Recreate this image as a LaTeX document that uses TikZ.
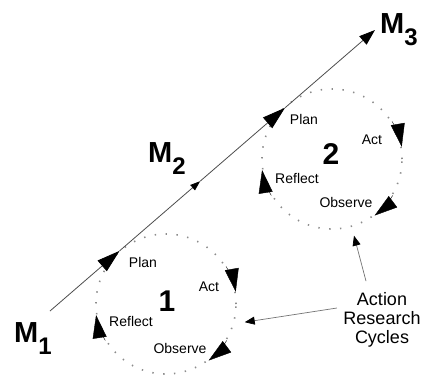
\documentclass[tikz,border=0pt]{standalone}
\usepackage{fontspec}
\setmainfont{Liberation Sans}
\usetikzlibrary{arrows.meta,calc}

\newcommand{\mlab}[1]{M\raisebox{-12pt}{\fontsize{24}{24}\selectfont #1}}

\begin{document}
\begin{tikzpicture}[x=1pt,y=1pt,font=\fontsize{14}{14}\selectfont,
  cycle/.style={circle, draw=black!45, line width=1.6pt, dash pattern=on 1.4pt off 9.5pt, minimum size=140pt, inner sep=0pt},
  num/.style={font=\fontsize{30}{30}\selectfont\bfseries},
  mlabel/.style={font=\fontsize{29}{29}\selectfont\bfseries, inner sep=0pt, anchor=base west},
  mainline/.style={draw=black!70, line width=0.8pt},
  big/.style={-{Triangle[length=23pt,width=14pt,color=black]}},
  small/.style={-{Triangle[length=10pt,width=7pt,color=black]}},
  tip/.style={-{Triangle[length=23pt,width=14pt]}, line width=0.4pt},
  pointer/.style={draw=black!55, line width=0.7pt, -{Triangle[length=10pt,width=8pt,color=black]}}
]

\useasboundingbox (0,0) rectangle (422,376);

% milestones
\node (m1) [mlabel] at (14,34) {\mlab{1}};
\node (m2) [mlabel] at (148,214) {\mlab{2}};
\node (m3) [mlabel] at (380,343) {\mlab{3}};

\coordinate (start) at (50,65);
\coordinate (end) at (375,346);
\coordinate (t1) at ($(start)!0.214!(end)$);
\coordinate (mid) at ($(start)!0.462!(end)$);
\coordinate (t2) at ($(start)!0.723!(end)$);

% cycles
\node (c1) [cycle] at (166,72) {};
\node (c2) [cycle] at (332,217) {};
\node (n1) [num] at (167,75) {1};
\node (n2) [num] at (331,222) {2};

\node (plan1) at (143,114) {Plan};
\node (act1) at (209,89) {Act};
\node (reflect1) at (131,55) {Reflect};
\node (observe1) at (180,28) {Observe};

\node (plan2) at (304,257) {Plan};
\node (act2) at (372,236) {Act};
\node (reflect2) at (297,198) {Reflect};
\node (observe2) at (346,174) {Observe};

\node (arc) [align=center, font=\fontsize{18}{19}\selectfont] at (382,56) {Action\\Research\\Cycles};

% main line
\draw[mainline, big] (start) -- (t1);
\draw[mainline, small] (t1) -- (mid);
\draw[mainline, big] (mid) -- (t2);
\draw[mainline, -{Triangle[length=16pt,width=11pt,color=black]}] (t2) -- (end);

% heads on the cycles
\foreach \c in {c1,c2} {
  \draw[tip] (\c.32) arc[start angle=32, end angle=10, radius=70.8pt];
  \draw[tip] (\c.-31) arc[start angle=-31, end angle=-53, radius=70.8pt];
  \draw[tip] (\c.211) arc[start angle=211, end angle=189, radius=70.8pt];
}

% pointers
\draw[pointer] ([shift={(-3pt,12pt)}]arc.west) -- ([shift={(-13:10)}]c1.-13);
\draw[pointer] ([shift={(-16pt,8pt)}]arc.north) -- ([shift={(-74:9)}]c2.-74);

\end{tikzpicture}
\end{document}
